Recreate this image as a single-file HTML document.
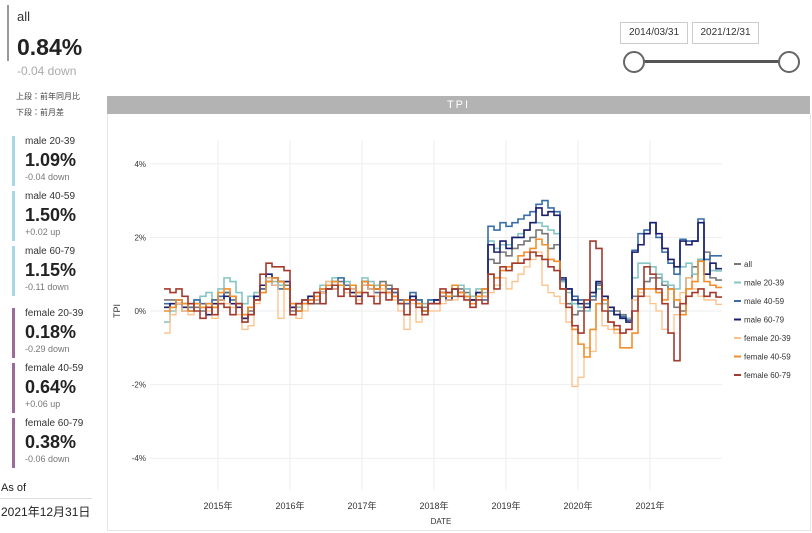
<!DOCTYPE html>
<html><head><meta charset="utf-8">
<style>
body{margin:0;width:812px;height:533px;background:#fff;font-family:"Liberation Sans","Noto Sans CJK JP",sans-serif;position:relative;overflow:hidden;color:#222}
.abs{position:absolute}
.card{position:absolute;left:12px;width:90px;height:50px;border-left:3px solid #a8d8e8}
.card.f{border-left-color:#9b6b9b}
.card .l{position:absolute;left:10px;top:0;font-size:10px;color:#333}
.card .v{position:absolute;left:10px;top:14px;font-size:18px;font-weight:bold;color:#222}
.card .c{position:absolute;left:10px;top:36px;font-size:9px;color:#777}
.datebox{position:absolute;top:22px;height:20px;border:1px solid #ccc;font-size:10px;line-height:20px;text-align:center;color:#333}
</style></head><body>
<div class="abs" style="left:7px;top:5px;width:90px;height:56px;border-left:2px solid #999"></div>
<div class="abs" style="left:17px;top:9px;font-size:13px;color:#333">all</div>
<div class="abs" style="left:17px;top:34px;font-size:23px;font-weight:bold">0.84%</div>
<div class="abs" style="left:17px;top:64px;font-size:12px;color:#aaa">-0.04 down</div>
<div class="abs" style="left:16px;top:91px;font-size:8px;color:#444">上段：前年同月比</div>
<div class="abs" style="left:16px;top:107px;font-size:8px;color:#444">下段：前月差</div>

<div class="card" style="top:136px"><div class="l">male 20-39</div><div class="v">1.09%</div><div class="c">-0.04 down</div></div>
<div class="card" style="top:191px"><div class="l">male 40-59</div><div class="v">1.50%</div><div class="c">+0.02 up</div></div>
<div class="card" style="top:246px"><div class="l">male 60-79</div><div class="v">1.15%</div><div class="c">-0.11 down</div></div>
<div class="card f" style="top:308px"><div class="l">female 20-39</div><div class="v">0.18%</div><div class="c">-0.29 down</div></div>
<div class="card f" style="top:363px"><div class="l">female 40-59</div><div class="v">0.64%</div><div class="c">+0.06 up</div></div>
<div class="card f" style="top:418px"><div class="l">female 60-79</div><div class="v">0.38%</div><div class="c">-0.06 down</div></div>
<div class="abs" style="left:1px;top:482px;font-size:11px">As of</div>
<div class="abs" style="left:0;top:498px;width:92px;border-top:1px solid #ddd"></div>
<div class="abs" style="left:1px;top:503px;font-size:12px">2021年12月31日</div>

<div class="datebox" style="left:620px;width:66px">2014/03/31</div>
<div class="datebox" style="left:692px;width:65px">2021/12/31</div>
<div class="abs" style="left:633px;top:60px;width:155px;height:3px;background:#555"></div>
<div class="abs" style="left:623px;top:51px;width:18px;height:18px;border:2px solid #666;border-radius:50%;background:#fff"></div>
<div class="abs" style="left:778px;top:51px;width:18px;height:18px;border:2px solid #666;border-radius:50%;background:#fff"></div>

<div class="abs" style="left:107px;top:96px;width:703px;height:18px;background:#b3b3b3;color:#fff;font-size:11px;text-align:center;line-height:18px;letter-spacing:2px">TPI</div>
<div class="abs" style="left:107px;top:114px;width:702px;height:416px;border:1px solid #e6e6e6;border-top:none"></div>

<svg class="abs" style="left:0;top:0" width="812" height="533" id="chart"></svg>
<script>
const yTicks=[4,2,0,-2,-4];
const yearLabels=["2015年","2016年","2017年","2018年","2019年","2020年","2021年"];
const seriesNames=["all","male 20-39","male 40-59","male 60-79","female 20-39","female 40-59","female 60-79"];
const seriesColors=["#777777","#86c5c5","#3a6ea5","#1a1f6e","#fdc088","#f28e2b","#a33a2e"];
const allVals=[0.3,0.3,0.2,0.0,0.2,0.1,0.0,0.2,0.1,
0.3,0.5,0.4,0.2,-0.1,0.0,0.3,0.6,0.9,0.9,0.8,0.7,
0.0,0.2,0.3,0.3,0.2,0.5,0.6,0.7,0.8,0.6,0.7,0.5,
0.8,0.7,0.6,0.8,0.7,0.5,0.3,0.2,0.4,0.3,0.1,0.2,
0.2,0.4,0.5,0.4,0.6,0.5,0.3,0.5,0.6,1.4,1.3,1.6,
1.5,1.7,1.8,1.9,2.0,2.2,2.1,1.7,1.8,0.8,0.2,-0.1,
0.0,0.2,0.3,0.7,0.4,0.1,0.0,-0.1,-0.2,0.4,0.6,0.8,
0.9,0.9,0.7,0.6,0.1,0.0,0.9,1.2,1.4,1.6,0.9,0.84];
const male2039=[-0.3,0.0,0.3,0.2,0.1,0.3,0.4,0.5,0.3,
0.6,0.9,0.8,0.5,0.2,0.4,0.5,0.7,0.8,0.8,0.7,0.6,
0.2,0.1,0.3,0.2,0.5,0.7,0.8,0.9,0.9,0.8,0.7,0.5,
0.9,0.8,0.7,0.7,0.6,0.5,0.3,0.3,0.4,0.3,0.2,0.3,
0.3,0.5,0.4,0.6,0.7,0.6,0.4,0.6,0.5,1.9,1.7,1.8,
1.8,2.0,2.1,2.2,2.4,2.4,2.3,2.2,2.1,0.8,0.5,0.2,
0.1,0.0,0.5,0.6,0.2,0.0,-0.1,-0.2,-0.2,0.9,1.3,1.3,
1.2,1.0,0.8,0.7,0.6,1.2,1.3,1.0,1.4,1.0,1.1,1.09];
const male4059=[0.2,0.1,0.3,0.2,0.1,0.3,0.2,0.1,0.3,
0.4,0.5,0.3,0.2,-0.2,0.1,0.4,0.6,0.8,0.7,0.6,0.6,
0.1,0.2,0.3,0.3,0.4,0.6,0.7,0.8,0.9,0.7,0.6,0.5,
0.8,0.7,0.5,0.7,0.6,0.5,0.3,0.2,0.5,0.3,0.0,0.3,
0.3,0.5,0.4,0.6,0.5,0.4,0.3,0.4,0.3,2.3,2.2,2.4,
2.3,2.4,2.5,2.6,2.7,2.9,3.0,2.8,2.7,0.85,0.6,0.4,
0.3,0.2,0.4,0.75,0.3,0.0,-0.1,-0.15,-0.25,1.65,2.1,2.2,
2.4,2.0,1.6,1.3,1.0,1.95,1.9,1.9,2.5,1.4,1.5,1.5];
const male6079=[0.1,0.2,0.2,0.1,0.0,0.2,0.1,-0.1,0.2,
0.3,0.4,0.2,0.1,-0.2,-0.1,0.4,0.7,1.0,0.9,0.8,0.8,
0.1,0.0,0.2,0.4,0.3,0.5,0.6,0.6,0.7,0.6,0.5,0.4,
0.7,0.6,0.6,0.7,0.5,0.4,0.2,0.3,0.4,0.2,0.0,0.2,
0.3,0.5,0.3,0.6,0.5,0.4,0.3,0.5,0.4,1.8,1.6,1.9,
1.7,2.0,2.0,2.2,2.4,2.8,2.6,2.7,2.6,0.9,0.6,0.3,
0.2,0.1,0.5,0.8,0.4,0.1,-0.1,-0.2,-0.3,1.6,1.8,2.1,
2.4,2.1,1.7,1.4,1.2,1.9,1.8,1.9,2.4,1.0,1.3,1.15];
const female2039=[-0.6,-0.1,0.2,0.0,-0.1,0.2,0.1,0.0,-0.2,
0.3,0.2,0.1,-0.1,-0.5,-0.4,0.2,0.5,0.9,0.7,-0.2,0.6,
-0.1,-0.2,0.0,0.2,0.3,0.5,0.8,0.6,0.7,0.5,0.6,0.3,
0.7,0.6,0.4,0.6,0.5,0.3,0.0,-0.5,0.2,-0.3,-0.1,0.0,
0.0,0.2,0.3,0.3,0.5,0.3,0.1,0.3,0.4,0.5,0.7,0.9,
0.6,0.8,1.0,1.2,1.4,1.6,0.7,0.5,0.4,0.2,-0.3,-2.05,
-1.8,-1.0,-1.1,0.2,-0.4,-0.5,-0.6,-0.6,-0.5,0.3,0.5,0.4,
0.2,0.0,-0.5,-0.6,-0.1,0.5,0.9,0.6,0.4,0.3,0.3,0.18];
const female4059=[0.0,0.1,0.3,0.2,0.0,0.2,0.1,0.2,0.1,
0.5,0.6,0.4,0.2,-0.1,0.1,0.3,0.5,0.8,0.9,0.8,0.6,
0.2,0.0,0.2,0.3,0.4,0.6,0.7,0.8,0.7,0.6,0.7,0.5,
0.8,0.7,0.6,0.7,0.5,0.4,0.2,0.3,0.3,0.2,0.0,0.2,
0.2,0.5,0.4,0.7,0.5,0.4,0.2,0.4,0.6,1.0,0.9,1.1,
1.2,1.3,1.5,1.6,1.7,1.95,1.8,1.4,1.35,0.6,0.1,-0.5,
-0.9,-1.25,-0.5,0.2,0.3,-0.3,-0.5,-1.0,-1.0,-0.6,0.6,0.6,
0.6,0.5,0.3,0.6,0.3,-0.1,0.6,0.8,1.35,0.8,0.7,0.64];
const female6079=[0.6,0.5,0.6,0.4,0.2,0.0,-0.2,0.1,-0.1,
0.2,0.1,-0.1,0.2,-0.3,-0.1,0.3,1.0,1.3,1.2,1.2,1.1,
-0.1,0.2,0.3,0.2,0.5,0.2,0.6,0.7,0.4,0.6,0.4,0.2,
0.5,0.4,0.2,0.5,0.3,0.6,0.2,-0.1,0.3,0.1,-0.1,0.2,
0.2,0.6,0.5,0.6,0.4,0.3,0.1,0.3,0.2,1.0,0.6,1.2,
1.1,1.3,1.3,1.4,1.6,1.5,1.4,1.2,1.1,0.6,0.1,-0.4,
-0.6,0.3,1.9,1.7,0.0,-0.3,-0.4,-0.6,-0.5,0.0,0.4,1.2,
1.0,0.6,0.2,-0.6,-1.35,0.2,0.4,0.5,0.6,0.4,0.5,0.38];
const seriesVals=[allVals,male2039,male4059,male6079,female2039,female4059,female6079];

const NS="http://www.w3.org/2000/svg";
const svg=document.getElementById('chart');
const X0=164, MW=6, Y0=311, PPU=36.8;
function xScale(i){return X0+i*MW;}
function yScale(v){return Y0-v*PPU;}
function mk(t,a){const e=document.createElementNS(NS,t);for(const k in a)e.setAttribute(k,a[k]);svg.appendChild(e);return e;}
yTicks.forEach(t=>{
  const g=mk('line',{x1:150,x2:722,y1:yScale(t),y2:yScale(t),stroke:'#eeeeee','stroke-width':1});
  
  
  const l=mk('text',{x:146,y:yScale(t)+3,'font-size':8,'text-anchor':'end',fill:'#333'});
  l.textContent=t+'%';
  
  
});
yearLabels.forEach((y,k)=>{
  const xi=xScale(9+12*k);
  const g=mk('line',{x1:xi,x2:xi,y1:140,y2:490,stroke:'#eeeeee','stroke-width':1});
  
  
  const l=mk('text',{x:xi,y:509,'font-size':9,'text-anchor':'middle',fill:'#333'});
  l.textContent=y;
  
  
});
const xt=mk('text',{x:441,y:524,'font-size':8,'text-anchor':'middle',fill:'#333'});xt.textContent='DATE';


const yt=mk('text',{x:0,y:0,'font-size':9,'text-anchor':'middle',fill:'#333',transform:'translate(120,311) rotate(-90)'});yt.textContent='TPI';


seriesVals.forEach((vals,s)=>{
  let d='';
  vals.forEach((v,i)=>{
    const y=yScale(v);
    d+=(i===0?'M':'L')+xScale(i)+' '+y+' L'+xScale(i+1)+' '+y+' ';
  });
  const p=mk('path',{d:d,fill:'none',stroke:seriesColors[s],'stroke-width':s===4?1.3:1.6});
  
  
  const ly=264+s*18.5;
  const lm=mk('line',{x1:734,x2:741,y1:ly,y2:ly,stroke:seriesColors[s],'stroke-width':2});
  
  
  const lt=mk('text',{x:744,y:ly+3,'font-size':8,fill:'#333'});
  lt.textContent=seriesNames[s];
  
  
});
</script>
</body></html>
